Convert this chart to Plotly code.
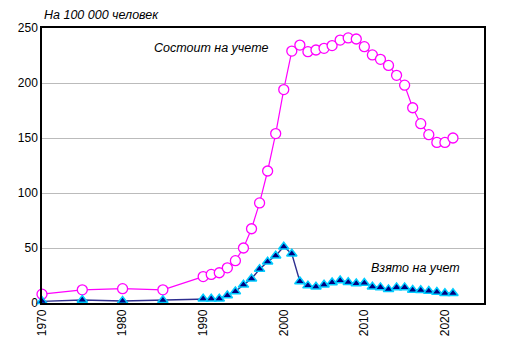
import plotly.graph_objects as go

years = [1970, 1975, 1980, 1985] + list(range(1990, 2022))

registered = [8, 12, 13, 12,
              24, 26, 27.5, 32, 38.5, 50, 67.5, 91, 120, 154,
              194, 229, 234.5, 228.5, 230, 231.5, 234, 239, 241, 240,
              233, 225.5, 221.5, 216, 207, 198, 177.5, 163, 153, 146,
              146, 150]

taken = [1.5, 2.7, 1.8, 2.5,
         3.8, 3.8, 3.8, 6.8, 10.5, 16.5, 22, 30.8, 37.5, 43,
         51.2, 44.7, 19.6, 15.8, 14.8, 16.6, 18.6, 20.5, 18.8, 17.8,
         18.2, 14.8, 14.2, 12.4, 14.2, 14.2, 11.8, 11.6, 10.9, 10,
         8.8, 8.8]

x_ticks = [1970, 1980, 1990, 2000, 2010, 2020]
y_ticks = [0, 50, 100, 150, 200, 250]

fig = go.Figure()
fig.add_trace(go.Scatter(
    x=years, y=registered, mode="lines+markers",
    line=dict(color="#FF00FF", width=1.2),
    marker=dict(symbol="circle", size=10, color="white",
                line=dict(color="#FF00FF", width=1.3)),
    cliponaxis=False, showlegend=False))
fig.add_trace(go.Scatter(
    x=years, y=taken, mode="lines+markers",
    line=dict(color="#2E2E8F", width=1.4),
    marker=dict(symbol="triangle-up", size=9, color="#000080",
                line=dict(color="#00CCFF", width=1.5)),
    cliponaxis=False, showlegend=False))

font_family = "Liberation Sans, Arial, sans-serif"

fig.update_layout(
    width=512, height=355,
    margin=dict(l=34, r=36, t=20, b=60, autoexpand=False),
    paper_bgcolor="white", plot_bgcolor="white",
    font=dict(family=font_family, size=12, color="black"),
    xaxis=dict(range=[1970, 2024.85], tickvals=x_ticks,
               ticktext=[str(v) for v in x_ticks], tickangle=-90,
               showgrid=False, zeroline=False, showline=True,
               linecolor="black", linewidth=1.5, mirror=True,
               ticks="", tickfont=dict(size=12), automargin=False),
    yaxis=dict(range=[0, 250], tickvals=y_ticks,
               showgrid=True, gridcolor="#BBBBBB", gridwidth=1,
               zeroline=False, showline=True, linecolor="black",
               linewidth=1.5, mirror=True, ticks="",
               tickfont=dict(size=12), automargin=False),
    annotations=[
        dict(text="<i>На 100 000 человек</i>", xref="paper", yref="paper",
             x=0, y=1, xanchor="left", yanchor="bottom", yshift=4,
             showarrow=False, font=dict(size=12.5)),
        dict(text="<i>Состоит на учете</i>", x=1991.0, y=231.8,
             showarrow=False, font=dict(size=12.5)),
        dict(text="<i>Взято на учет</i>", x=2016.4, y=31.8,
             showarrow=False, font=dict(size=12.5)),
    ],
)

fig.write_html("out.html")
